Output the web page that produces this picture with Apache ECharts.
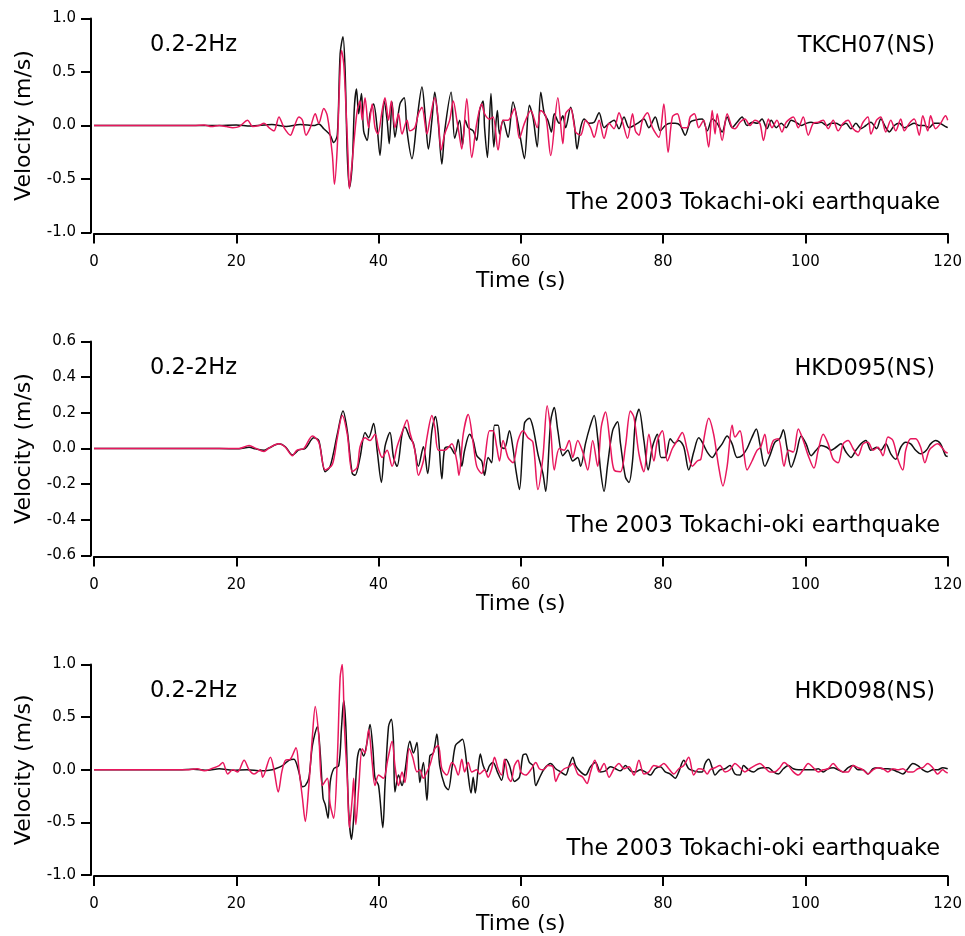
<!DOCTYPE html>
<html>
<head>
<meta charset="utf-8">
<script src="https://cdn.jsdelivr.net/npm/echarts@6/dist/echarts.min.js"></script>
<style>
html,body{margin:0;padding:0;background:#fff;}
#chart{width:965px;height:936px;}
</style>
</head>
<body>
<div id="chart"></div>
<script>
// ---------- data (time s, velocity m/s) ----------
const stations = ['TKCH07(NS)', 'HKD095(NS)', 'HKD098(NS)'];
const bandLabel = '0.2-2Hz';
const eventLabel = 'The 2003 Tokachi-oki earthquake';
const xTicks = [0, 20, 40, 60, 80, 100, 120];
const yRanges = [[-1.0, 1.0, 0.5], [-0.6, 0.6, 0.2], [-1.0, 1.0, 0.5]];

const tkch07Black = [[0,0],[10,0],[17.6,0],[20,0.005],[22,-0.005],[25,0.01],[27,-0.01],[29,0.01],[31,0.0],
[31.6,0.015],[32.3,-0.03],[33.2,-0.09],[33.7,-0.16],[34.2,-0.09],[34.6,0.67],[35.0,0.83],[35.3,0.51],[35.6,-0.27],[35.9,-0.58],[36.3,-0.36],[36.6,0.17],[36.9,0.34],[37.2,0.11],[37.6,0.30],[37.9,-0.05],[38.4,-0.14],[38.8,0.11],[39.3,0.20],[39.8,-0.02],[40.2,-0.28],[40.8,0.23],[41.2,0.05],[41.5,-0.17],[41.9,0.22],[42.3,-0.11],[43.0,0.20],[43.6,0.26],[44.0,-0.05],[44.7,-0.31],[45.4,0.05],[46.1,0.36],[46.6,0.05],[47.0,-0.22],[47.5,0.05],[47.9,0.31],[48.4,0.02],[48.9,-0.36],[49.3,-0.05],[50.2,0.31],[50.7,-0.12],[51.4,0.05],[51.8,-0.18],
[52.2,0.05],[52.6,-0.02],[53.3,-0.05],[53.8,-0.14],[54.2,0.14],[54.7,0.23],[54.9,-0.02],[55.3,-0.30],[55.8,0.30],[56.2,-0.20],[56.7,0.14],[57.0,-0.08],[57.5,0.05],[58.2,-0.11],[58.9,0.22],[59.6,0.02],[60.0,-0.14],[60.5,-0.31],[61.2,0.19],[61.7,0.08],[62.3,-0.20],[62.8,0.31],[63.3,0.11],[63.8,0.05],[64.3,-0.06],[64.7,0.11],[65.4,0.02],[65.9,0.09],[66.3,-0.02],[67.0,0.17],[67.5,0.02],[67.9,-0.22],[68.4,-0.02],[68.9,0.06],[69.6,0.02],[70.3,0.03],[71.0,0.12],[71.7,-0.02],[72.4,0.02],[73.1,0.05],[73.8,-0.03],[74.5,0.08],[75.2,-0.02],[75.9,0.0],[76.6,0.03],[77.3,0.06],[78.0,-0.02],[78.9,0.08],[79.6,-0.05],[80.3,0.0],[81.0,0.02],[81.7,0.02],[82.4,0.0],[83.1,-0.09],[83.8,0.03],[84.5,0.05],
[85.5,0.06],[86.2,-0.05],[86.9,0.06],[87.6,0.02],[88.3,-0.06],[89.0,0.08],[89.7,-0.02],[90.4,0.03],[91.1,0.08],[91.8,0.0],[92.5,0.03],[93.2,0.02],[93.9,0.06],[94.6,-0.03],[95.2,0.05],[95.9,-0.02],[96.6,0.02],[97.3,-0.02],[98.0,0.05],[98.7,0.03],[99.4,0.0],[100.1,0.02],[100.8,0.03],[101.5,0.02],[102.2,0.03],[103.0,0.0],[103.6,0.02],[104.3,0.02],[105.0,0.0],[105.7,0.02],[106.4,-0.03],[107.1,0.02],[107.8,-0.03],[108.5,0.0],[109.2,0.03],[110.0,-0.03],[110.6,0.06],[111.3,-0.02],[111.8,-0.06],[112.5,0.0],[113.2,0.02],[113.9,-0.02],[114.6,0.0],[115.3,0.02],[116.0,0.0],[116.7,0.0],[117.4,-0.02],[118.1,0.02],[118.8,0.02],[119.7,-0.01],[120,-0.02]];

const tkch07Red = [[0,0],[14,0],[15.5,0.005],[16.5,-0.01],[17.6,0.0],[18.6,-0.01],[19.5,-0.02],[20.4,-0.01],[21.6,0.05],[22.3,-0.01],[23.2,0.0],[23.9,0.02],[24.6,-0.02],[25.3,-0.05],[26.0,0.08],[26.7,-0.02],[27.6,-0.09],[28.1,-0.02],[28.8,0.08],[29.3,0.05],[29.8,-0.09],[30.4,-0.02],[31.1,0.11],[31.6,0.02],[32.3,0.16],[32.8,0.09],[33.5,-0.27],[33.8,-0.55],[34.2,-0.20],[34.5,0.36],[34.8,0.70],[35.1,0.58],[35.4,0.20],[35.7,-0.27],[35.9,-0.59],[36.3,-0.33],[36.6,-0.11],[37.0,0.14],[37.4,0.23],[37.7,0.05],[38.1,0.26],[38.6,-0.02],[39.1,0.20],[39.5,-0.02],[39.9,-0.08],[40.5,0.14],[40.9,0.26],[41.4,0.05],[41.8,0.23],[42.3,-0.02],[42.8,0.11],[43.3,-0.08],[44.0,0.05],[44.4,-0.05],[45.1,-0.02],[45.6,0.11],[46.1,0.17],[46.8,-0.08],[47.2,0.05],[47.9,0.26],[48.4,0.05],[48.8,-0.23],[49.3,-0.08],[50.0,0.05],[50.5,0.23],[51.0,0.05],[51.4,-0.11],[51.7,-0.22],[52.4,0.25],[53.1,-0.30],[53.8,0.02],[54.5,0.20],[54.9,0.11],[55.6,0.06],[56.1,0.08],[56.8,-0.23],[57.5,0.05],[58.2,0.05],[59.1,0.16],[59.8,-0.12],[60.5,0.02],[61.4,0.14],[62.3,-0.02],[62.8,0.14],[63.5,0.09],[64.2,-0.28],[65.2,0.26],[65.9,-0.17],[66.3,0.11],[67.0,0.16],[67.7,-0.06],[68.4,-0.09],[69.1,0.05],[69.8,-0.02],[70.3,-0.11],[71.0,0.05],[71.7,-0.12],[72.4,0.02],[73.1,-0.03],[73.8,0.12],[74.3,0.03],[75.0,-0.12],[75.7,0.11],[76.1,-0.05],[76.6,-0.09],[77.1,0.05],[77.8,0.12],[78.5,-0.02],[79.4,-0.11],[80.1,0.20],[80.7,-0.25],[81.3,0.08],[82.0,0.11],[82.7,-0.02],[83.4,-0.02],[83.8,0.08],[84.4,0.11],[85.0,-0.02],[85.7,0.05],[86.4,-0.20],[86.9,0.14],[87.3,-0.08],[87.6,0.11],[88.3,-0.14],[89.0,0.11],[89.7,-0.02],[90.1,-0.03],[90.8,0.03],[91.5,0.06],[92.2,0.0],[92.9,0.05],[93.6,0.02],[94.1,-0.14],[94.8,0.06],[95.3,-0.02],[96.0,0.05],[96.7,-0.06],[97.3,0.03],[98.3,0.08],[99.0,-0.02],[99.7,0.08],[100.4,-0.09],[101.1,0.02],[101.8,0.03],[102.5,0.05],[103.2,-0.03],[103.9,0.05],[104.6,-0.05],[105.3,0.02],[106.0,0.05],[106.7,-0.03],[107.4,-0.06],[108.1,0.03],[108.8,0.08],[109.2,-0.08],[110.0,0.05],[110.6,0.08],[111.3,-0.06],[112.0,0.05],[112.7,-0.05],[113.4,0.06],[113.9,-0.05],[114.6,0.02],[115.3,0.06],[116.0,-0.09],[116.5,0.09],[117.2,-0.05],[117.6,0.09],[118.3,-0.03],[119.0,0.02],[119.7,0.09],[120,0.05]];

const hkd095Black = [[0,0],[15,0],[17.6,0.0],[20.4,-0.002],[21.8,0.007],[22.7,-0.002],[23.9,-0.01],[24.6,0.003],[26.0,0.026],[26.9,0.01],[27.9,-0.036],[28.8,-0.008],[29.7,0.0],[30.9,0.06],[31.6,0.045],[32.5,-0.13],[33.2,-0.10],[34.2,0.08],[35.0,0.21],[35.6,0.10],[36.3,-0.14],[36.7,-0.15],[37.4,-0.05],[38.1,0.09],[38.6,0.06],[39.3,0.14],[39.8,-0.01],[40.4,-0.19],[40.9,0.01],[41.6,0.09],[42.1,-0.05],[42.6,-0.10],[43.3,0.08],[43.7,0.12],[44.4,0.06],[44.9,0.03],[45.6,-0.10],[46.3,0.01],[46.9,-0.14],[47.5,0.10],[48.0,0.18],[48.4,0.08],[48.9,-0.17],[49.3,0.0],[50.0,0.01],[50.7,-0.03],[51.2,0.05],[51.7,-0.10],[52.1,-0.01],[52.8,0.08],[53.3,0.045],[53.8,-0.04],[54.5,-0.07],[54.9,-0.15],[55.4,-0.05],[55.9,-0.08],[56.3,0.13],[56.8,0.13],[57.2,0.01],[57.7,0.0],[58.4,0.10],[58.9,0.0],[59.3,-0.12],[59.8,-0.23],[60.5,0.14],[61.2,0.17],[61.7,0.12],[62.4,-0.03],[63.1,-0.14],[63.5,-0.24],[64.2,0.155],[64.7,0.23],[65.2,0.10],[65.9,-0.04],[66.6,-0.01],[67.3,-0.07],[68.0,-0.05],[68.4,-0.10],[69.1,0.03],[69.7,0.12],[70.3,0.185],[70.8,0.06],[71.2,-0.12],[71.7,-0.24],[72.2,-0.09],[72.9,0.10],[73.6,0.15],[74.0,0.03],[74.7,-0.16],[75.2,-0.19],[75.7,-0.07],[76.1,0.15],[76.6,0.22],[77.3,0.045],[77.9,-0.12],[78.5,0.01],[79.2,0.08],[79.7,-0.05],[80.3,-0.05],[81.0,0.055],[81.6,0.03],[82.2,0.045],[82.9,0.01],[83.6,-0.12],[84.3,-0.02],[85.0,0.06],[85.5,0.035],[86.2,-0.02],[86.9,-0.05],[87.6,-0.01],[88.3,0.026],[89.0,0.07],[89.7,0.026],[90.4,-0.05],[91.1,-0.04],[91.8,0.0],[92.5,0.064],[93.1,0.11],[93.6,0.026],[94.3,-0.10],[95.0,-0.04],[95.7,0.035],[96.4,0.055],[96.9,0.105],[97.4,0.007],[98.0,-0.105],[98.7,-0.03],[99.4,0.07],[100.1,0.026],[100.8,-0.04],[101.5,-0.01],[102.2,0.017],[103.0,0.007],[103.6,-0.01],[104.3,0.007],[105.0,0.026],[105.7,-0.02],[106.4,-0.05],[107.1,-0.01],[107.8,0.026],[108.5,0.045],[109.2,-0.01],[110.0,0.007],[110.6,-0.01],[111.3,0.026],[112.0,-0.03],[112.7,-0.06],[113.4,0.007],[114.1,0.035],[114.8,0.026],[115.5,-0.01],[116.2,-0.03],[117.0,-0.01],[117.6,0.026],[118.3,0.045],[119.0,0.026],[119.7,-0.04],[120,-0.045]];

const hkd095Red = [[0,0],[15,0],[17.6,0],[20.4,0.0],[21.8,0.017],[22.7,0.002],[23.9,-0.017],[24.6,0.003],[26.0,0.026],[26.9,0.007],[27.9,-0.04],[28.5,-0.01],[29.5,0.0],[30.7,0.07],[31.6,0.035],[32.5,-0.12],[33.5,-0.09],[34.2,0.06],[34.9,0.185],[35.6,0.08],[36.3,-0.13],[37.0,-0.105],[37.4,0.01],[38.1,0.06],[38.8,0.045],[39.5,0.08],[40.0,0.0],[40.5,-0.05],[41.2,-0.01],[41.9,-0.10],[42.6,0.01],[43.3,0.09],[44.0,0.16],[44.4,0.09],[45.1,-0.01],[45.6,-0.15],[46.3,-0.07],[46.8,0.06],[47.5,0.185],[47.9,0.12],[48.4,-0.01],[49.3,-0.01],[50.3,0.026],[51.0,-0.07],[51.3,-0.15],[51.9,0.08],[52.6,0.19],[53.3,0.03],[53.8,-0.10],[54.5,-0.14],[54.9,-0.07],[55.6,0.10],[56.1,0.10],[56.6,0.01],[57.0,-0.07],[57.5,0.045],[58.2,-0.05],[58.9,-0.08],[59.6,0.045],[60.3,0.10],[61.0,0.06],[61.7,0.035],[62.4,-0.23],[63.1,-0.05],[63.7,0.24],[64.2,0.10],[64.7,-0.12],[65.4,0.0],[66.1,-0.01],[66.8,0.045],[67.3,-0.05],[68.0,0.045],[68.7,-0.02],[69.4,-0.12],[70.1,0.045],[70.8,-0.10],[71.3,0.12],[71.9,0.205],[72.6,0.01],[73.1,-0.12],[74.0,-0.13],[74.7,0.01],[75.4,0.21],[75.9,0.175],[76.6,-0.03],[77.3,-0.13],[78.0,0.08],[78.7,-0.07],[79.2,0.045],[79.9,0.10],[80.6,-0.07],[81.3,0.0],[82.0,0.045],[82.7,0.09],[83.4,-0.01],[84.1,-0.10],[84.8,-0.07],[85.3,-0.06],[85.8,0.07],[86.4,0.17],[87.1,0.08],[87.8,-0.10],[88.4,-0.21],[89.0,-0.10],[89.7,0.13],[90.1,0.064],[90.8,0.10],[91.3,-0.01],[91.8,-0.12],[92.5,-0.07],[93.2,-0.01],[93.7,0.007],[94.3,0.08],[94.8,-0.03],[95.5,0.045],[96.2,0.055],[97.0,-0.10],[97.6,-0.01],[98.3,-0.02],[99.0,0.11],[99.7,0.045],[100.4,-0.04],[101.2,-0.11],[101.8,-0.01],[102.5,0.08],[103.2,0.026],[103.9,-0.06],[104.6,-0.08],[105.3,0.026],[106.0,0.045],[106.7,0.0],[107.4,-0.04],[108.1,0.026],[108.8,0.035],[109.5,-0.01],[110.2,0.007],[110.9,-0.04],[111.6,0.064],[112.3,0.045],[113.0,-0.06],[113.7,-0.12],[114.1,-0.01],[114.8,0.055],[115.5,0.055],[116.2,0.007],[116.8,-0.08],[117.4,-0.01],[118.1,0.017],[118.6,0.026],[119.3,0.0],[119.7,-0.02],[120,-0.025]];

const hkd098Black = [[0,0],[12,0],[14,0.005],[16,-0.005],[17.6,0.01],[19.5,-0.005],[21.5,0.0],[23.5,-0.01],[24.6,-0.005],[25.5,0.01],[26.5,0.04],[27.4,0.09],[28.1,0.10],[28.8,-0.02],[29.3,-0.16],[29.7,-0.15],[30.2,-0.08],[30.7,0.23],[31.4,0.41],[31.8,0.16],[32.2,-0.27],[32.5,-0.33],[32.9,-0.46],[33.2,-0.12],[33.7,0.01],[34.4,0.04],[34.8,0.41],[35.1,0.66],[35.4,0.41],[35.8,-0.40],[36.2,-0.66],[36.5,-0.46],[37.0,0.10],[37.4,0.20],[37.9,0.13],[38.4,0.27],[38.8,0.43],[39.2,0.20],[39.5,-0.08],[40.0,-0.15],[40.6,-0.55],[40.9,-0.15],[41.4,0.41],[41.8,0.48],[42.1,0.26],[42.3,-0.21],[42.8,-0.05],[43.3,-0.15],[43.7,-0.02],[44.4,0.27],[44.9,0.16],[45.4,0.26],[45.8,-0.12],[46.3,0.07],[46.8,-0.29],[47.2,0.13],[47.7,0.16],[48.2,0.34],[48.6,0.04],[49.3,-0.15],[49.8,-0.19],[50.3,0.01],[50.8,0.23],[51.4,0.27],[51.8,0.29],[52.5,0.0],[53.0,-0.22],[53.3,-0.07],[53.6,-0.22],[54.0,0.01],[54.3,0.15],[54.7,0.04],[55.2,-0.02],[55.6,0.04],[56.1,0.07],[56.7,-0.02],[57.3,-0.10],[57.9,0.10],[58.4,0.04],[59.1,-0.11],[59.8,-0.07],[60.3,0.14],[60.7,0.15],[61.2,0.07],[61.7,0.04],[62.1,-0.15],[62.6,-0.08],[63.3,0.01],[64.2,0.06],[64.9,0.01],[65.6,-0.02],[66.3,-0.05],[66.8,0.04],[67.3,0.12],[67.7,0.04],[68.4,-0.02],[69.1,-0.05],[69.8,0.03],[70.5,0.07],[71.2,-0.02],[71.9,-0.01],[72.6,0.03],[73.3,0.01],[74.0,-0.01],[74.7,0.04],[75.4,-0.01],[76.1,-0.02],[76.8,0.0],[77.5,-0.02],[78.2,-0.05],[78.9,0.01],[79.6,0.03],[80.3,-0.02],[81.0,-0.04],[81.7,-0.08],[82.2,-0.02],[82.9,0.09],[83.6,0.01],[84.3,-0.01],[85.0,-0.02],[85.5,-0.02],[85.9,0.06],[86.4,0.10],[86.9,0.02],[87.3,-0.05],[88.0,0.0],[88.7,0.01],[89.4,0.04],[90.1,-0.04],[90.8,-0.05],[91.3,0.04],[92.0,0.0],[92.7,-0.02],[93.4,0.01],[94.1,0.02],[94.8,0.02],[95.5,-0.02],[96.2,-0.04],[96.9,0.01],[97.6,0.04],[98.3,0.01],[99.0,0.0],[99.7,0.0],[100.4,0.0],[101.1,0.0],[101.8,0.01],[102.5,-0.02],[103.2,0.01],[103.9,0.02],[104.6,0.0],[105.3,-0.02],[106.0,0.02],[106.7,0.04],[107.4,0.0],[108.1,0.0],[108.8,-0.04],[109.5,0.01],[110.2,0.02],[110.9,0.01],[111.6,0.01],[112.3,0.0],[113.0,-0.02],[113.7,-0.04],[114.4,0.01],[115.1,0.06],[115.8,0.04],[116.5,0.0],[117.2,-0.02],[117.9,0.0],[118.6,0.0],[119.3,0.02],[120,0.01]];

const hkd098Red = [[0,0],[13,0],[14.5,0.01],[15.5,-0.01],[16.5,0.01],[17.6,0.04],[18.1,0.07],[18.8,-0.04],[19.5,0.0],[20.2,-0.02],[21.1,0.09],[21.8,0.0],[22.5,-0.04],[23.4,0.0],[23.7,-0.07],[24.8,0.12],[25.3,0.0],[25.9,-0.21],[26.4,-0.02],[26.9,0.09],[27.6,0.10],[28.4,0.21],[28.8,0.01],[29.3,-0.27],[29.7,-0.49],[30.2,-0.15],[30.7,0.32],[31.1,0.60],[31.6,0.32],[32.1,-0.15],[32.8,-0.08],[33.2,-0.33],[33.7,-0.46],[34.2,0.10],[34.6,0.88],[34.9,1.00],[35.2,0.41],[35.6,-0.08],[35.9,-0.55],[36.3,-0.27],[36.5,-0.08],[36.8,-0.52],[37.2,-0.18],[37.7,0.20],[38.1,0.16],[38.6,0.38],[39.1,0.07],[39.5,-0.15],[40.0,-0.05],[40.7,-0.08],[41.3,0.10],[41.9,0.27],[42.3,0.04],[42.8,-0.15],[43.3,-0.02],[43.7,-0.12],[44.3,0.20],[44.8,0.12],[45.4,-0.02],[45.8,0.0],[46.3,-0.08],[46.8,-0.02],[47.2,0.04],[47.9,0.20],[48.4,0.23],[48.9,0.01],[49.6,-0.05],[50.3,0.07],[50.7,0.04],[51.2,-0.05],[51.7,0.10],[52.1,-0.02],[52.6,0.07],[53.1,-0.02],[53.8,0.0],[54.2,-0.04],[54.9,0.0],[55.4,-0.07],[55.9,0.01],[56.3,0.12],[56.8,0.01],[57.3,-0.05],[57.7,0.10],[58.2,-0.07],[58.6,-0.11],[59.1,0.04],[59.6,0.09],[60.0,-0.02],[60.7,-0.05],[61.4,0.0],[62.1,0.07],[62.6,0.01],[63.2,0.0],[63.8,0.04],[64.5,0.03],[64.9,-0.11],[65.4,-0.04],[66.1,0.01],[66.8,0.03],[67.3,0.06],[68.0,-0.04],[68.7,-0.07],[69.3,-0.13],[69.8,-0.02],[70.4,0.09],[71.0,-0.02],[71.7,0.06],[72.4,-0.07],[73.1,0.01],[73.8,0.06],[74.5,0.01],[75.2,0.03],[75.9,-0.05],[76.6,0.09],[77.3,-0.04],[78.0,-0.02],[78.7,0.04],[79.4,0.03],[80.1,0.06],[80.8,0.01],[81.5,-0.04],[82.2,0.01],[82.9,0.04],[83.6,0.12],[84.3,-0.05],[85.0,0.01],[85.7,0.0],[86.2,-0.04],[86.6,0.0],[87.3,0.02],[88.0,0.04],[88.7,-0.02],[89.4,0.0],[90.1,0.06],[90.8,0.02],[91.5,-0.02],[92.2,0.01],[92.9,0.04],[93.6,0.06],[94.3,0.02],[95.0,-0.02],[95.7,-0.02],[96.4,0.02],[97.0,0.07],[97.6,0.04],[98.3,-0.02],[99.0,-0.05],[99.7,0.0],[100.4,0.06],[101.1,0.02],[101.8,-0.02],[102.5,0.0],[103.2,0.01],[103.9,0.06],[104.6,0.01],[105.3,-0.02],[106.0,-0.02],[106.7,0.04],[107.4,0.02],[108.1,0.0],[108.8,-0.04],[109.5,0.0],[110.2,0.02],[110.9,0.01],[111.6,-0.02],[112.3,0.01],[113.0,0.0],[113.7,0.01],[114.4,-0.02],[115.1,-0.02],[115.8,0.01],[116.5,0.02],[117.2,0.06],[117.9,0.02],[118.6,-0.04],[119.3,0.0],[119.7,-0.02],[120,-0.03]];

const blackSeries = [tkch07Black, hkd095Black, hkd098Black];
const redSeries = [tkch07Red, hkd095Red, hkd098Red];

// ---------- layout ----------
const FONT = 'DejaVu Sans';
const panelTops = [18.5, 341.5, 664.5];
const panelH = 214;
const BLACK = '#111111';
const RED = '#e8175d';

const grids = [], xAxes = [], yAxes = [], series = [], graphics = [];
panelTops.forEach((top, i) => {
  grids.push({ left: 94, width: 858, top: top, height: panelH, containLabel: false });
  xAxes.push({
    type: 'value', gridIndex: i, min: xTicks[0], max: xTicks[xTicks.length - 1], interval: 20,
    offset: 1,
    axisLine: { show: true, onZero: false, lineStyle: { color: '#000', width: 2 } },
    axisTick: { show: true, length: 10, lineStyle: { color: '#000', width: 2 } },
    axisLabel: { margin: 21, fontSize: 15, color: '#000', fontFamily: FONT },
    splitLine: { show: false },
    name: 'Time (s)', nameLocation: 'middle', nameGap: 28,
    nameTextStyle: { fontSize: 22, color: '#000', fontFamily: FONT }
  });
  const r = yRanges[i];
  yAxes.push({
    type: 'value', gridIndex: i, min: r[0], max: r[1], interval: r[2],
    offset: 3,
    axisLine: { show: true, onZero: false, lineStyle: { color: '#000', width: 2 } },
    axisTick: { show: true, length: 10, lineStyle: { color: '#000', width: 2 } },
    axisLabel: { margin: 15, fontSize: 15, color: '#000', fontFamily: FONT,
      formatter: v => v.toFixed(1) },
    splitLine: { show: false },
    name: 'Velocity (m/s)', nameLocation: 'middle', nameGap: 56, nameRotate: 90,
    nameTextStyle: { fontSize: 22, color: '#000', fontFamily: FONT }
  });
  series.push({
    type: 'line', xAxisIndex: i, yAxisIndex: i, data: blackSeries[i],
    showSymbol: false, symbol: 'none', smooth: 0.3,
    lineStyle: { color: BLACK, width: 1.5 }, z: 2
  });
  series.push({
    type: 'line', xAxisIndex: i, yAxisIndex: i, data: redSeries[i],
    showSymbol: false, symbol: 'none', smooth: 0.3,
    lineStyle: { color: RED, width: 1.5 }, z: 3
  });
  const dy = top - 18.5;
  graphics.push({ type: 'text', left: 150, top: 34 + dy,
    style: { text: bandLabel, fontSize: 22.5, fontFamily: FONT, fill: '#000' } });
  graphics.push({ type: 'text', right: 30, top: 35 + dy,
    style: { text: stations[i], fontSize: 22.5, fontFamily: FONT, fill: '#000' } });
  graphics.push({ type: 'text', right: 25, top: 192 + dy,
    style: { text: eventLabel, fontSize: 22.5, fontFamily: FONT, fill: '#000' } });
});

const chart = echarts.init(document.getElementById('chart'), null, { renderer: 'canvas' });
chart.setOption({
  animation: false,
  backgroundColor: '#ffffff',
  grid: grids,
  xAxis: xAxes,
  yAxis: yAxes,
  series: series,
  graphic: graphics
});
</script>
</body>
</html>
